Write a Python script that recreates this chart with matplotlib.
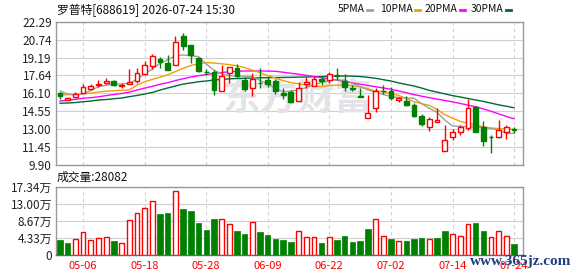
import numpy as np
import matplotlib
matplotlib.use('Agg')
import matplotlib.pyplot as plt

plt.rcParams['font.family'] = ['Noto Sans CJK SC', 'DejaVu Sans']

# ---- data ----
dates = ['04-28', '04-29', '04-30', '05-06', '05-07', '05-08', '05-11', '05-12',
         '05-13', '05-14', '05-15', '05-18', '05-19', '05-20', '05-21', '05-22',
         '05-25', '05-26', '05-27', '05-28', '05-29', '06-01', '06-02', '06-03',
         '06-04', '06-05', '06-08', '06-09', '06-10', '06-11', '06-12', '06-15',
         '06-16', '06-17', '06-18', '06-22', '06-23', '06-24', '06-25', '06-26',
         '06-29', '06-30', '07-01', '07-02', '07-03', '07-06', '07-07', '07-08',
         '07-09', '07-10', '07-13', '07-14', '07-15', '07-16', '07-17', '07-20',
         '07-21', '07-22', '07-23', '07-24']

opens = [16.12, 15.56, 15.81, 16.10, 16.50, 16.86, 16.96, 17.17, 16.73, 16.90,
         17.19, 17.74, 18.49, 19.06, 18.69, 18.52, 21.05, 20.28, 19.18, 17.95,
         17.92, 16.27, 17.88, 18.26, 17.25, 16.53, 17.00, 17.25, 17.19, 16.15,
         16.24, 15.41, 16.93, 16.73, 17.33, 17.25, 17.66, 17.16, 16.55, 15.87,
         13.94, 14.80, 16.34, 16.30, 15.50, 15.43, 15.09, 14.16, 13.21, 13.64,
         11.11, 12.29, 12.78, 13.07, 14.89, 13.21, 12.35, 12.35, 12.78, 12.99]
highs = [16.21, 15.80, 16.24, 16.90, 16.90, 17.22, 17.40, 17.25, 16.99, 18.17,
         18.31, 18.87, 19.47, 19.24, 19.41, 21.08, 21.29, 20.30, 19.20, 18.17,
         18.11, 18.55, 18.40, 18.63, 17.48, 17.88, 18.26, 17.53, 17.31, 16.53,
         16.39, 17.10, 17.48, 17.60, 17.53, 17.97, 18.26, 17.74, 16.82, 16.53,
         15.95, 16.53, 16.82, 16.67, 15.80, 15.87, 15.24, 14.28, 14.08, 14.80,
         13.36, 12.99, 13.36, 15.58, 15.00, 13.70, 12.50, 13.79, 13.36, 13.21]
lows = [15.64, 15.52, 15.76, 16.09, 16.39, 16.62, 16.88, 16.70, 16.60, 16.88,
        16.96, 17.66, 18.23, 18.26, 18.11, 18.52, 19.84, 18.75, 17.91, 17.68,
        15.95, 16.27, 17.02, 17.53, 16.32, 15.87, 16.53, 16.67, 16.04, 15.58,
        15.29, 15.41, 16.53, 16.73, 16.82, 17.02, 17.25, 16.30, 16.30, 15.76,
        13.94, 14.52, 16.04, 15.52, 15.37, 15.00, 14.08, 13.30, 12.87, 13.64,
        11.11, 12.06, 12.50, 12.93, 12.78, 11.54, 10.97, 12.21, 12.15, 12.64]
closes = [15.83, 15.68, 16.04, 16.62, 16.73, 16.93, 17.16, 16.79, 16.84, 17.07,
          17.83, 18.52, 19.35, 18.83, 18.11, 20.51, 20.21, 19.44, 18.03, 17.90,
          16.38, 17.60, 18.40, 17.62, 16.47, 17.31, 16.97, 16.93, 16.32, 15.93,
          15.37, 16.53, 17.10, 17.31, 17.19, 17.77, 17.60, 16.67, 16.50, 15.76,
          14.42, 16.28, 16.31, 15.67, 15.72, 15.09, 14.16, 13.45, 13.85, 13.79,
          12.06, 12.78, 13.16, 14.80, 12.78, 12.00, 12.30, 12.93, 13.16, 12.95]
prev_close = 16.30  # close of the day before the window

# volume in 万 shares
volume = [3.83, 2.98, 4.00, 5.79, 3.83, 4.26, 4.68, 3.57, 2.98, 8.85,
          10.63, 11.90, 13.60, 10.46, 10.63, 16.15, 11.73, 11.05, 8.08, 6.38,
          9.10, 9.10, 7.83, 6.12, 5.27, 8.34, 5.87, 5.10, 4.08, 3.83,
          3.32, 6.12, 4.68, 4.51, 2.98, 4.51, 3.83, 4.85, 3.32, 3.57,
          6.63, 9.10, 4.93, 4.08, 3.57, 3.57, 4.08, 4.25, 4.08, 4.25,
          6.12, 5.27, 4.76, 7.83, 8.08, 6.12, 4.51, 6.12, 4.76, 2.8082]

ma5 = [16.30, 16.04, 15.95, 16.04, 16.35, 16.67, 16.80, 16.88, 16.90, 16.96,
       17.31, 17.80, 18.20, 18.69, 19.00, 19.35, 19.41, 19.35, 19.27, 18.63,
       18.11, 17.77, 17.62, 17.60, 17.58, 17.53, 17.20, 16.90, 16.53, 16.24,
       16.30, 16.39, 16.60, 16.82, 17.05, 17.19, 17.25, 17.25, 16.95, 16.67,
       16.39, 16.20, 16.00, 15.81, 15.75, 15.70, 15.67, 15.20, 14.80, 14.45,
       13.79, 13.27, 13.24, 13.21, 13.18, 13.16, 13.05, 12.93, 12.64, 12.64]
ma10 = [15.95, 15.98, 16.00, 16.04, 16.12, 16.22, 16.28, 16.32, 16.36, 16.40,
        16.80, 17.10, 17.30, 17.50, 17.70, 17.98, 18.26, 18.50, 18.65, 18.75,
        18.72, 18.65, 18.58, 18.48, 18.32, 18.10, 17.88, 17.62, 17.42, 17.20,
        17.02, 16.92, 16.82, 16.74, 16.68, 16.78, 16.80, 16.82, 16.76, 16.66,
        16.50, 16.30, 16.24, 16.06, 15.92, 15.65, 15.37, 15.20, 15.05, 14.70,
        14.25, 13.95, 13.68, 13.50, 13.35, 13.21, 13.10, 13.05, 13.00, 12.99]
ma20 = [15.43, 15.50, 15.58, 15.67, 15.72, 15.80, 15.90, 16.00, 16.08, 16.20,
        16.38, 16.55, 16.70, 16.88, 17.02, 17.20, 17.36, 17.50, 17.62, 17.72,
        17.83, 17.90, 17.96, 18.00, 18.03, 18.03, 18.03, 18.02, 18.00, 17.92,
        17.83, 17.75, 17.65, 17.55, 17.45, 17.36, 17.25, 17.12, 17.00, 16.88,
        16.78, 16.67, 16.56, 16.45, 16.30, 16.15, 15.98, 15.85, 15.72, 15.60,
        15.48, 15.36, 15.22, 15.08, 14.94, 14.75, 14.55, 14.32, 14.10, 13.90]
ma30 = [15.24, 15.26, 15.30, 15.37, 15.43, 15.52, 15.56, 15.63, 15.69, 15.81,
        15.91, 16.04, 16.17, 16.38, 16.56, 16.73, 16.90, 16.99, 17.10, 17.16,
        17.25, 17.30, 17.35, 17.38, 17.40, 17.42, 17.44, 17.45, 17.46, 17.47,
        17.48, 17.50, 17.51, 17.53, 17.55, 17.57, 17.60, 17.60, 17.58, 17.55,
        17.48, 17.40, 17.28, 17.16, 17.00, 16.86, 16.73, 16.55, 16.35, 16.20,
        16.05, 15.90, 15.78, 15.65, 15.52, 15.40, 15.25, 15.10, 14.98, 14.85]

price_ticks = ['9.90', '11.45', '13.00', '14.55', '16.10', '17.64', '19.19', '20.74', '22.29']
vol_ticks = ['0', '4.33万', '8.67万', '13.00万', '17.34万']
tick_idx = [3, 11, 19, 27, 35, 43, 51, 59]

RED = '#ff0000'
GREEN = '#008000'
GRID = '#d0d0d0'
FRAME = '#999999'
TXT = '#222222'

o = np.array(opens); h = np.array(highs); l = np.array(lows); c = np.array(closes)
v = np.array(volume)
x = np.arange(len(dates))

fig = plt.figure(figsize=(5.78, 2.76), dpi=100)
W, H = 578.0, 276.0
ax = fig.add_axes([56 / W, 1 - 165 / H, (523 - 56) / W, (165 - 21.7) / H])
axv = fig.add_axes([56 / W, 1 - 255 / H, (523 - 56) / W, (255 - 186.5) / H])

xlim = (-0.52, 60.16)

# ---- price panel ----
pvals = [float(t) for t in price_ticks]
ax.set_xlim(*xlim)
ax.set_ylim(pvals[0], pvals[-1])
for pv in pvals:
    ax.axhline(pv, color=GRID, lw=0.8, zorder=0)
for ti in tick_idx:
    ax.axvline(ti, color=GRID, lw=0.8, ls=(0, (3, 3)), zorder=0)

# faint site watermark behind the candles
ax.text(298 / W, 1 - 99 / H, '东方财富', transform=fig.transFigure, fontsize=27,
        color='#e4e4e8', ha='center', va='center', zorder=0.5, fontweight='bold')

ax.plot(x, ma30, color='#006a35', lw=1, zorder=2)
ax.plot(x, ma20, color='#ff00ff', lw=1, zorder=2)
ax.plot(x, ma10, color='#f0a000', lw=1, zorder=2)
ax.plot(x, ma5, color='#a0a0a0', lw=1, zorder=2)

up = c >= o
cols = np.where(up, RED, GREEN)
ax.vlines(x, l, h, colors=cols, lw=1, zorder=3)
body_lo = np.minimum(o, c)
body_h = np.maximum(np.abs(c - o), 0.02)
ax.bar(x[up], body_h[up], bottom=body_lo[up], width=0.62, facecolor='white',
       edgecolor=RED, lw=1, zorder=4)
ax.bar(x[~up], body_h[~up], bottom=body_lo[~up], width=0.62, facecolor=GREEN,
       edgecolor=GREEN, lw=1, zorder=4)

ax.set_yticks(pvals)
ax.set_yticklabels(price_ticks)
ax.set_xticks([])
ax.tick_params(axis='y', length=0, pad=3, labelsize=8.5, labelcolor=TXT)
for s in ax.spines.values():
    s.set_color(FRAME)
    s.set_linewidth(1)

# ---- volume panel ----
vvals = [0, 4.335, 8.67, 13.005, 17.34]
prev = np.concatenate([[prev_close], c[:-1]])
vup = c >= prev
axv.set_xlim(*xlim)
axv.set_ylim(0, 17.34)
for vv in vvals:
    axv.axhline(vv, color=GRID, lw=0.8, zorder=0)
for ti in tick_idx:
    axv.axvline(ti, color=GRID, lw=0.8, ls=(0, (3, 3)), zorder=0)
axv.bar(x[vup], v[vup], width=0.62, facecolor='white', edgecolor=RED, lw=1, zorder=3)
axv.bar(x[~vup], v[~vup], width=0.7, facecolor=GREEN, edgecolor=GREEN, lw=0.5, zorder=3)
axv.set_yticks(vvals)
axv.set_yticklabels(vol_ticks)
axv.set_xticks(tick_idx)
axv.set_xticklabels([dates[i] for i in tick_idx])
axv.tick_params(axis='y', length=0, pad=3, labelsize=8.5, labelcolor=TXT)
axv.tick_params(axis='x', length=0, pad=4, labelsize=8, labelcolor=RED)
for s in axv.spines.values():
    s.set_color(FRAME)
    s.set_linewidth(1)
axv.spines['bottom'].set_color('#666666')

# ---- texts ----
fig.text(57 / W, 1 - 10 / H, '罗普特[688619] 2026-07-24 15:30', fontsize=8.5,
         color='#111111', va='center', ha='left')
fig.text(57 / W, 1 - 177 / H, '成交量:' + str(int(round(volume[-1] * 10000))),
         fontsize=8.5, color='#111111', va='center', ha='left')

legend = [('5PMA', '#a0a0a0', 338), ('10PMA', '#f0a000', 380),
          ('20PMA', '#ff00ff', 425), ('30PMA', '#006a35', 471)]
for name, col, lx in legend:
    fig.text(lx / W, 1 - 9 / H, name, fontsize=7.5, color='#111111',
             va='center', ha='left')
fig.canvas.draw()
rend = fig.canvas.get_renderer()
for t, (name, col, lx) in zip(fig.texts[-4:], legend):
    bb = t.get_window_extent(rend)
    x0 = bb.x1 + 2
    fig.add_artist(plt.Line2D([x0 / W, (x0 + 5) / W], [1 - 9.5 / H, 1 - 9.5 / H],
                              color=col, lw=2, transform=fig.transFigure))

# site stamp in the bottom-right corner, drawn over the last date label
fig.text(571 / W, 1 - 261 / H, 'www.365jz.com', fontsize=11, color='#1f3f7f',
         family='Liberation Serif', fontweight='bold', va='center', ha='right')

fig.savefig('out.png', dpi=100)
